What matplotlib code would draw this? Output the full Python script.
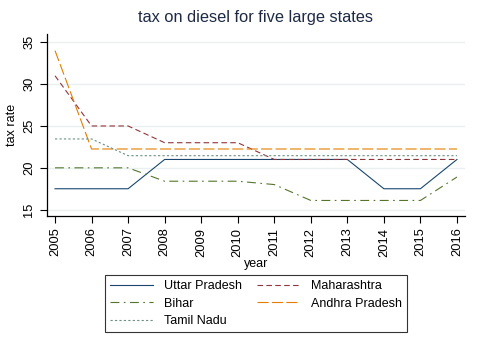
import matplotlib.pyplot as plt

plt.rcParams['font.family'] = ['Liberation Sans', 'DejaVu Sans']

years = list(range(2005, 2017))
uttar_pradesh = [17.5, 17.5, 17.5, 21, 21, 21, 21, 21, 21, 17.5, 17.5, 21]
maharashtra = [31, 25, 25, 23, 23, 23, 21, 21, 21, 21, 21, 21]
bihar = [20, 20, 20, 18.4, 18.4, 18.4, 18, 16.1, 16.1, 16.1, 16.1, 18.9]
andhra_pradesh = [34, 22.25, 22.25, 22.25, 22.25, 22.25, 22.25, 22.25, 22.25, 22.25, 22.25, 22.25]
tamil_nadu = [23.45, 23.45, 21.45, 21.45, 21.45, 21.45, 21.45, 21.45, 21.45, 21.45, 21.45, 21.45]
yticks = [15, 20, 25, 30, 35]

fig = plt.figure(figsize=(4.78, 3.47), dpi=100)
ax = fig.add_axes([0.0983, 0.3784, 0.8745, 0.5236])

lw = 0.8
h_up, = ax.plot(years, uttar_pradesh, color='#1a476f', lw=lw, ls='-', label='Uttar Pradesh')
h_mh, = ax.plot(years, maharashtra, color='#90353b', lw=lw, ls=(0, (5, 3)), label='Maharashtra')
h_bi, = ax.plot(years, bihar, color='#55752f', lw=lw, ls=(0, (8, 4, 1.5, 4)), label='Bihar')
h_ap, = ax.plot(years, andhra_pradesh, color='#e37e00', lw=lw, ls=(0, (10, 3)), label='Andhra Pradesh')
h_tn, = ax.plot(years, tamil_nadu, color='#6e8e84', lw=lw, ls=(0, (2, 2)), label='Tamil Nadu')

ax.set_xlim(2004.78, 2016.22)
ax.set_ylim(14.28, 35.99)
ax.set_xticks(years)
ax.set_xticklabels([str(y) for y in years], rotation=90, fontsize=9.3)
ax.set_yticks(yticks)
ax.set_yticklabels([str(y) for y in yticks], rotation=90, va='center', fontsize=9.3)
ax.tick_params(length=5, width=0.8, color='black')
ax.grid(axis='y', color='#eaf0f0', lw=1)
ax.set_axisbelow(True)
for s in ['top', 'right']:
    ax.spines[s].set_visible(False)
for s in ['left', 'bottom']:
    ax.spines[s].set_linewidth(0.9)

ax.set_title('tax on diesel for five large states', fontsize=11.8, color='#1e2a44', pad=9)
ax.set_xlabel('year', fontsize=9, labelpad=1)
ax.set_ylabel('tax rate', fontsize=9, labelpad=4)

leg = ax.legend(handles=[h_up, h_bi, h_tn, h_mh, h_ap], ncol=2, loc='upper center',
                bbox_to_anchor=(0.5, -0.326), borderaxespad=0, fontsize=9,
                fancybox=False, edgecolor='black', handlelength=3.4,
                handletextpad=0.9, columnspacing=1.2, labelspacing=0.45, borderpad=0.4)
leg.get_frame().set_linewidth(0.8)

fig.savefig('out.png', dpi=100)
